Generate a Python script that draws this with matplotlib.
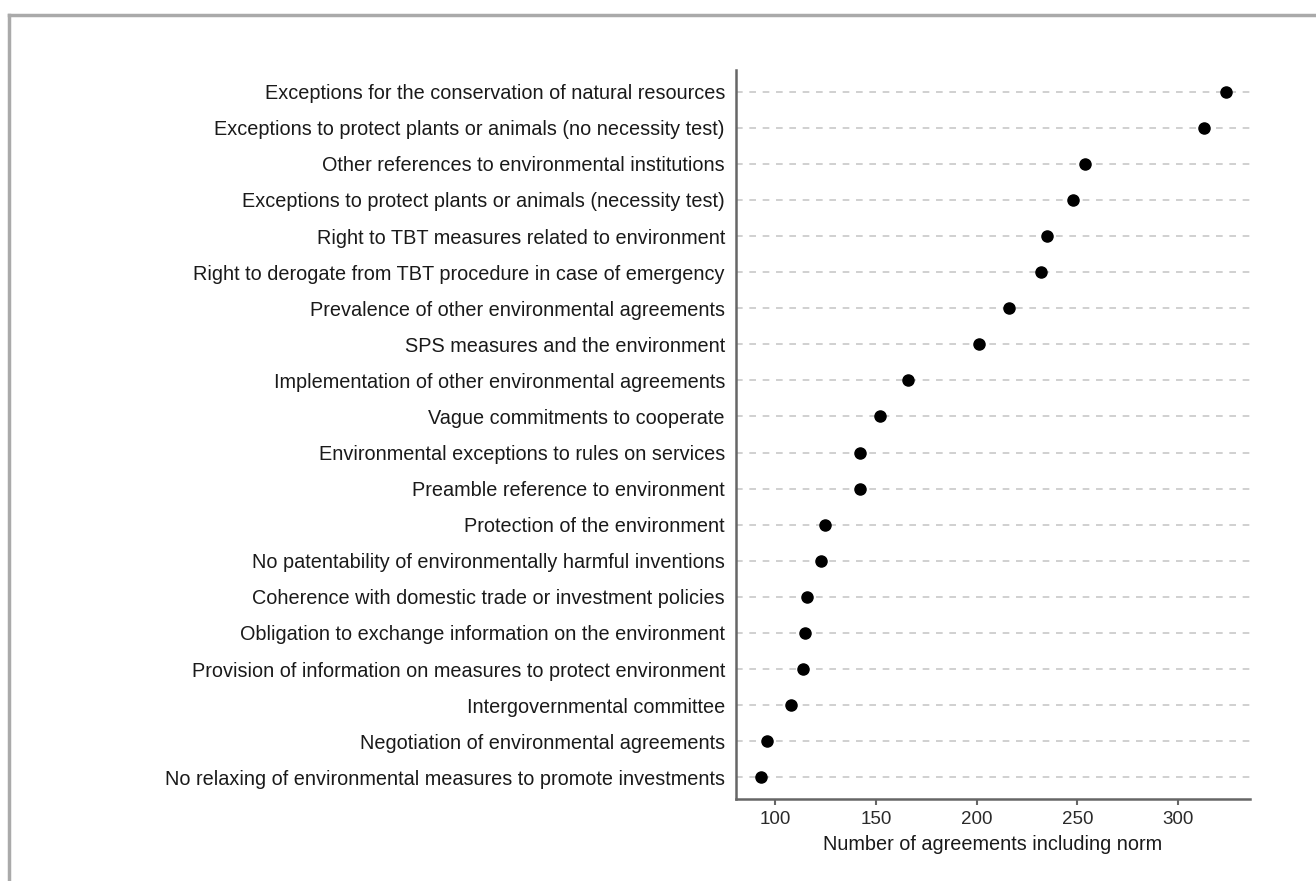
import matplotlib
matplotlib.use("Agg")
import matplotlib.pyplot as plt
from matplotlib.lines import Line2D

plt.rcParams['font.family'] = ['Liberation Sans', 'DejaVu Sans']

# norms, top to bottom, and number of agreements including each
norms = [
    "Exceptions for the conservation of natural resources",
    "Exceptions to protect plants or animals (no necessity test)",
    "Other references to environmental institutions",
    "Exceptions to protect plants or animals (necessity test)",
    "Right to TBT measures related to environment",
    "Right to derogate from TBT procedure in case of emergency",
    "Prevalence of other environmental agreements",
    "SPS measures and the environment",
    "Implementation of other environmental agreements",
    "Vague commitments to cooperate",
    "Environmental exceptions to rules on services",
    "Preamble reference to environment",
    "Protection of the environment",
    "No patentability of environmentally harmful inventions",
    "Coherence with domestic trade or investment policies",
    "Obligation to exchange information on the environment",
    "Provision of information on measures to protect environment",
    "Intergovernmental committee",
    "Negotiation of environmental agreements",
    "No relaxing of environmental measures to promote investments",
]
counts = [324, 313, 254, 248, 235, 232, 216, 201, 166, 152,
          142, 142, 125, 123, 116, 115, 114, 108, 96, 93]
xticks = [100, 150, 200, 250, 300]

fig = plt.figure(figsize=(13.16, 8.81), dpi=100)
ax = fig.add_axes([736 / 1316, 82 / 881, 514 / 1316, 729 / 881])

ypos = list(range(len(norms), 0, -1))
for y in ypos:
    ax.axhline(y, color="#c8c8c8", lw=1.2, ls=(0, (4, 4)), zorder=1, xmax=1.005, clip_on=False)
ax.plot(counts, ypos, "o", color="black", ms=8, zorder=3, clip_on=False)

ax.set_xlim(80.6, 335.7)
ax.set_ylim(0.4, len(norms) + 0.6)
ax.set_yticks(ypos)
ax.set_yticklabels(norms, fontsize=14.3, color="#1a1a1a")
ax.set_xticks(xticks)
ax.set_xticklabels([str(t) for t in xticks], fontsize=13.5, color="#2a2a2a")
ax.set_xlabel("Number of agreements including norm", fontsize=14.3, color="#1a1a1a", labelpad=5)

ax.tick_params(axis="y", length=0, pad=8)
ax.tick_params(axis="x", length=4, width=1.5, color="#666666", pad=5)
for side in ["top", "right"]:
    ax.spines[side].set_visible(False)
for side in ["left", "bottom"]:
    ax.spines[side].set_color("#666666")
    ax.spines[side].set_linewidth(1.8)

# outer gray frame of the picture
fig.add_artist(Line2D([9 / 1316, 1.01], [1 - 15 / 881, 1 - 15 / 881], color="#aaaaaa", lw=2.5))
fig.add_artist(Line2D([9 / 1316, 9 / 1316], [-0.01, 1 - 15 / 881], color="#aaaaaa", lw=2.5))

fig.savefig("out.png", dpi=100, facecolor="white")
